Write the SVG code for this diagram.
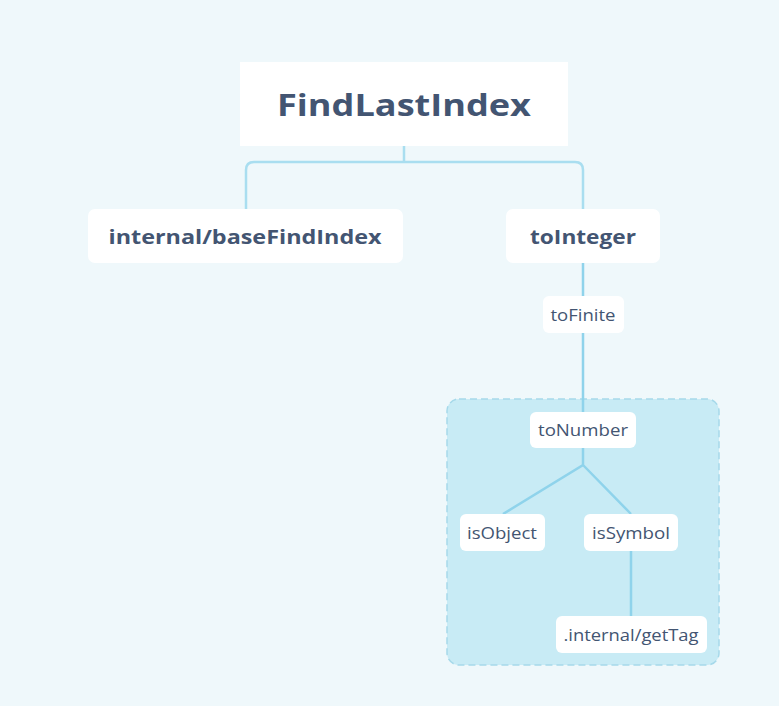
<svg xmlns="http://www.w3.org/2000/svg" width="779" height="706" viewBox="0 0 779 706">
<style>
.bg{fill:#eff8fb}
.node{fill:#ffffff}
.t{font-family:"Open Sans","Liberation Sans",sans-serif;fill:#435572;text-anchor:middle}
.b{font-weight:700}
.s{font-size:16px}
.line{fill:none;stroke:#8fd3eb;stroke-width:2.5}
.line2{fill:none;stroke:#a9def0;stroke-width:2.5}
.cluster{fill:#c8ebf5;stroke:#a6d9ea;stroke-width:1.5;stroke-dasharray:7 4}
</style>
<rect class="bg" x="0" y="0" width="779" height="706"/>
<g id="cluster-toNumber">
<rect class="cluster" x="447" y="399" width="272" height="266" rx="12"/>
</g>
<g id="connectors">
<path class="line2" d="M404 146 V162 M246 209 V170 Q246 162 254 162 H575 Q583 162 583 170 V209"/>
<path class="line" d="M583 263 V412"/>
<path class="line" d="M583 448 V465 L503 514 M583 465 L631 514"/>
<path class="line" d="M631 551 V616"/>
</g>
<g id="node-FindLastIndex">
<rect class="node" x="240" y="62" width="328" height="84"/>
<text class="t b" x="404" y="116" font-size="31" textLength="254" lengthAdjust="spacingAndGlyphs">FindLastIndex</text>
</g>
<g id="node-baseFindIndex">
<rect class="node" x="88" y="209" width="315" height="54" rx="7"/>
<text class="t b" x="245" y="244" font-size="20" textLength="273" lengthAdjust="spacingAndGlyphs">internal/baseFindIndex</text>
</g>
<g id="node-toInteger">
<rect class="node" x="506" y="209" width="154" height="54" rx="7"/>
<text class="t b" x="583" y="244" font-size="20" textLength="106" lengthAdjust="spacingAndGlyphs">toInteger</text>
</g>
<g id="node-toFinite">
<rect class="node" x="543" y="296" width="81" height="37" rx="6"/>
<text class="t s" x="583" y="321" textLength="65" lengthAdjust="spacingAndGlyphs">toFinite</text>
</g>
<g id="node-toNumber">
<rect class="node" x="530" y="412" width="106" height="36" rx="6"/>
<text class="t s" x="583" y="436" textLength="90" lengthAdjust="spacingAndGlyphs">toNumber</text>
</g>
<g id="node-isObject">
<rect class="node" x="460" y="514" width="85" height="37" rx="6"/>
<text class="t s" x="502" y="539" textLength="70" lengthAdjust="spacingAndGlyphs">isObject</text>
</g>
<g id="node-isSymbol">
<rect class="node" x="584" y="514" width="94" height="37" rx="6"/>
<text class="t s" x="631" y="539" textLength="78" lengthAdjust="spacingAndGlyphs">isSymbol</text>
</g>
<g id="node-getTag">
<rect class="node" x="556" y="616" width="151" height="37" rx="6"/>
<text class="t s" x="631" y="641" textLength="135" lengthAdjust="spacingAndGlyphs">.internal/getTag</text>
</g>
</svg>
